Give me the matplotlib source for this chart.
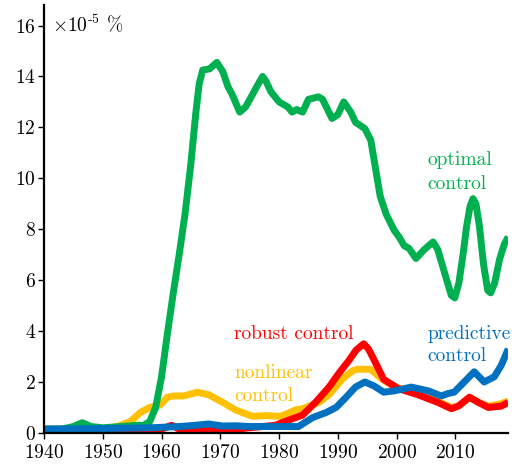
import matplotlib
matplotlib.use("Agg")
import matplotlib.pyplot as plt

plt.rcParams['font.family'] = 'serif'
plt.rcParams['font.serif'] = ['cmr10', 'DejaVu Serif']
plt.rcParams['mathtext.fontset'] = 'cm'
plt.rcParams['axes.formatter.use_mathtext'] = True

# optimal control
opt_years = [1940, 1943, 1945, 1946.5, 1948, 1950, 1953, 1956, 1957, 1958, 1959, 1960,
             1961, 1962, 1963, 1964, 1965, 1965.8, 1966.4, 1967, 1968.2, 1969.4, 1970.4,
             1971.3, 1972, 1973.3, 1974.3, 1975.5, 1976.2, 1977.2, 1977.8, 1978.6, 1980,
             1981.5, 1982.2, 1983, 1984, 1985, 1986.7, 1987.4, 1989, 1990, 1991, 1992.2,
             1993, 1994.6, 1995.6, 1996.4, 1997.2, 1998.2, 1999.6, 2000.4, 2001.3, 2002.1,
             2003.3, 2004.7, 2006.2, 2007, 2008.4, 2009.3, 2009.9, 2010.6, 2011.3, 2011.9,
             2012.5, 2013, 2013.5, 2014.1, 2014.8, 2015.5, 2016, 2016.7, 2017.5, 2018.3, 2019]
opt_vals = [0.15, 0.15, 0.25, 0.4, 0.25, 0.2, 0.25, 0.3, 0.3, 0.45, 1.0, 2.2,
            3.9, 5.5, 7.0, 8.6, 10.6, 12.5, 13.7, 14.25, 14.3, 14.55, 14.2,
            13.6, 13.3, 12.6, 12.8, 13.3, 13.6, 14.0, 13.8, 13.4, 13.0,
            12.8, 12.6, 12.7, 12.6, 13.1, 13.2, 13.1, 12.35, 12.5, 13.0, 12.6,
            12.2, 11.95, 11.5, 10.4, 9.3, 8.6, 7.95, 7.7, 7.35, 7.25,
            6.85, 7.2, 7.5, 7.2, 6.1, 5.4, 5.3, 5.9, 7.0, 8.1,
            8.9, 9.2, 9.0, 8.1, 6.6, 5.6, 5.5, 5.9, 6.8, 7.4, 7.7]

# nonlinear control
nl_years = [1940, 1945, 1950, 1952.5, 1954.7, 1956.4, 1958, 1959.8, 1961, 1962, 1963.7,
            1965.4, 1966, 1968, 1970.4, 1972.6, 1975.5, 1977.7, 1980.3, 1982.8, 1984,
            1986.8, 1988.5, 1990.9, 1992.6, 1993.4, 1995.6, 1997.3, 1999, 2001, 2003.6,
            2007, 2009.3, 2010.5, 2012.4, 2013.9, 2015.6, 2017.8, 2019]
nl_vals = [0.15, 0.15, 0.17, 0.25, 0.45, 0.8, 1.0, 1.1, 1.4, 1.45, 1.45,
           1.55, 1.6, 1.5, 1.2, 0.9, 0.65, 0.68, 0.65, 0.9, 0.95,
           1.2, 1.5, 2.15, 2.45, 2.5, 2.5, 2.15, 1.9, 1.7, 1.55,
           1.25, 1.0, 1.05, 1.4, 1.2, 1.05, 1.15, 1.25]

# robust control
rob_years = [1940, 1950, 1958, 1960, 1961.7, 1963, 1965.8, 1968, 1972, 1974.8, 1977.2,
             1979.4, 1981.6, 1984, 1986.2, 1988.5, 1990.2, 1991.9, 1993.1, 1994.4,
             1995.2, 1996.1, 1997.8, 2000.2, 2003.6, 2007, 2009.3, 2010.5, 2012.4,
             2013.9, 2015.6, 2017.8, 2019]
rob_vals = [0.1, 0.1, 0.1, 0.15, 0.3, 0.15, 0.1, 0.1, 0.12, 0.2, 0.25,
            0.3, 0.5, 0.7, 1.2, 1.8, 2.35, 2.85, 3.25, 3.5,
            3.3, 2.9, 2.1, 1.75, 1.5, 1.2, 0.95, 1.05, 1.4,
            1.2, 1.0, 1.05, 1.2]

# predictive control
pred_years = [1940, 1950, 1958, 1963, 1965.8, 1968, 1970.4, 1972.6, 1975, 1980, 1983.3,
              1985.7, 1988, 1989.7, 1991.4, 1993, 1994.6, 1996.1, 1997.8, 1999.6, 2002.5,
              2005.4, 2007.6, 2008.8, 2009.8, 2011.5, 2013.2, 2014.9, 2016.6, 2017.8, 2019]
pred_vals = [0.15, 0.17, 0.2, 0.25, 0.3, 0.35, 0.27, 0.28, 0.25, 0.25, 0.25,
             0.6, 0.8, 1.0, 1.4, 1.8, 2.0, 1.85, 1.6, 1.65, 1.8,
             1.65, 1.45, 1.55, 1.6, 2.0, 2.4, 2.0, 2.2, 2.65, 3.3]

green = '#00b050'
yellow = '#ffc000'
red = '#ff0000'
blue = '#0070c0'

fig = plt.figure(figsize=(5.24, 4.68), dpi=100)
ax = fig.add_axes([0.084, 0.075, 0.886, 0.914])

lw = 5
for xs, ys, c in [(nl_years, nl_vals, yellow), (opt_years, opt_vals, green),
                  (rob_years, rob_vals, red), (pred_years, pred_vals, blue)]:
    ax.plot(xs, ys, color=c, lw=lw, solid_capstyle='butt', solid_joinstyle='round')

fs = 14
ax.text(2005.2, 10.25, 'optimal\ncontrol', color=green, fontsize=fs, ha='left', va='center', linespacing=1.38)
ax.text(2005.2, 3.45, 'predictive\ncontrol', color=blue, fontsize=fs, ha='left', va='center', linespacing=1.3)
ax.text(1972.3, 3.9, 'robust control', color=red, fontsize=fs, ha='left', va='center')
ax.text(1972.4, 1.9, 'nonlinear\ncontrol', color=yellow, fontsize=fs, ha='left', va='center', linespacing=1.38)
ax.text(1941.3, 16.05, r'$\times 10^{\text{-}5}$ %', fontsize=fs, ha='left', va='center')

ax.set_xlim(1940, 2019)
ax.set_ylim(0, 16.8)
ax.set_xticks(range(1940, 2011, 10))
ax.set_yticks(range(0, 17, 2))
ax.tick_params(labelsize=fs, direction='out', length=4, width=1)
ax.tick_params(axis='x', pad=4)
ax.tick_params(axis='y', pad=2)
for s in ['top', 'right']:
    ax.spines[s].set_visible(False)
for s in ['left', 'bottom']:
    ax.spines[s].set_linewidth(1.6)

plt.savefig('out.png', dpi=100)
